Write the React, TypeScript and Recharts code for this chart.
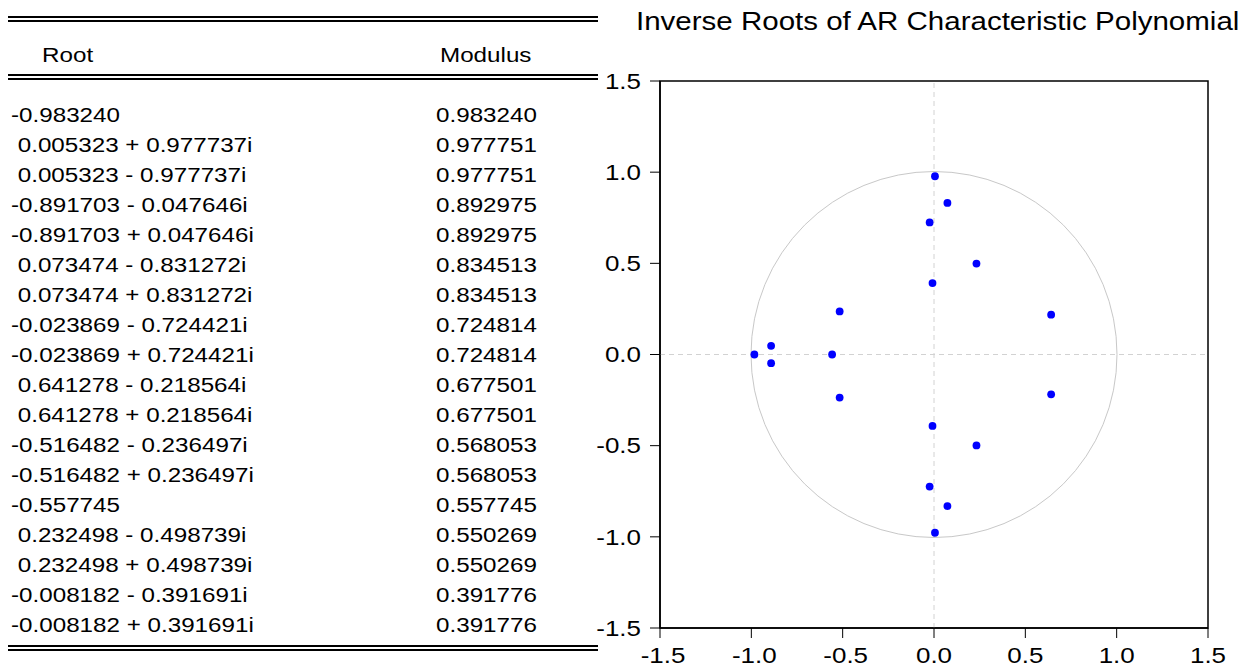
import React from "react";
import {
  ReferenceArea,
  ReferenceDot,
  ReferenceLine,
  Scatter,
  ScatterChart,
  XAxis,
  YAxis,
} from "recharts";

// inverse roots, in table order
const rootRe = [
  -0.98324, 0.005323, 0.005323, -0.891703, -0.891703, 0.073474, 0.073474, -0.023869, -0.023869,
  0.641278, 0.641278, -0.516482, -0.516482, -0.557745, 0.232498, 0.232498, -0.008182, -0.008182,
];
const rootIm = [
  0, 0.977737, -0.977737, -0.047646, 0.047646, -0.831272, 0.831272, -0.724421, 0.724421,
  -0.218564, 0.218564, -0.236497, 0.236497, 0, -0.498739, 0.498739, -0.391691, 0.391691,
];
const moduli = [
  "0.983240", "0.977751", "0.977751", "0.892975", "0.892975", "0.834513", "0.834513", "0.724814",
  "0.724814", "0.677501", "0.677501", "0.568053", "0.568053", "0.557745", "0.550269", "0.550269",
  "0.391776", "0.391776",
];
const axisTicks = [-1.5, -1.0, -0.5, 0, 0.5, 1.0, 1.5];

const title = "Inverse Roots of AR Characteristic Polynomial";
const FONT = "'Liberation Sans', Arial, sans-serif";
const STRETCH = 1.18;

const points = rootRe.map((re, i) => ({ re, im: rootIm[i] }));

function rootLabel(re: number, im: number) {
  const r = `${re < 0 ? "-" : " "}${Math.abs(re).toFixed(6)}`;
  if (im === 0) return r;
  return `${r} ${im < 0 ? "-" : "+"} ${Math.abs(im).toFixed(6)}i`;
}

function Txt({ x, y, size, children }: { x: number; y: number; size: number; children: React.ReactNode }) {
  return (
    <div
      style={{
        position: "absolute",
        left: x,
        top: y,
        fontSize: size,
        lineHeight: "30px",
        whiteSpace: "pre",
        transform: `scaleX(${STRETCH})`,
        transformOrigin: "left center",
        color: "#000",
      }}
    >
      {children}
    </div>
  );
}

function HLine({ y, h }: { y: number; h: number }) {
  return <div style={{ position: "absolute", left: 8, top: y, width: 590, height: h, background: "#000" }} />;
}

function makeTick(axis: "x" | "y") {
  return (props: any) => {
    const { x, y, payload } = props;
    const v = Number(payload.value);
    // negative x labels sit a touch right of the tick
    const shift = axis === "x" && v < 0 ? 3 : 0;
    return (
      <g transform={`translate(${x + shift},${y})`}>
        <text
          x={0}
          y={0}
          transform={`scale(${STRETCH},1)`}
          textAnchor={axis === "x" ? "middle" : "end"}
          dy={axis === "x" ? "0.71em" : "0.355em"}
          fontSize={22}
          fontFamily={FONT}
          fill="#000"
        >
          {v.toFixed(1)}
        </text>
      </g>
    );
  };
}

function RootDot(props: any) {
  return <circle cx={props.cx} cy={props.cy} r={3.9} fill="#0000ff" />;
}

export default function App() {
  return (
    <div
      style={{
        position: "absolute",
        left: 0,
        top: 0,
        width: 1246,
        height: 667,
        background: "#fff",
        fontFamily: FONT,
        overflow: "hidden",
      }}
    >
      <HLine y={16} h={2} />
      <HLine y={20} h={1.5} />
      <Txt x={42} y={40} size={20.5}>Root</Txt>
      <Txt x={440} y={40} size={20.5}>Modulus</Txt>
      <HLine y={74} h={2} />
      <HLine y={78} h={1.5} />
      {points.map((p, i) => (
        <React.Fragment key={i}>
          <Txt x={11} y={100 + i * 30} size={20.5}>{rootLabel(p.re, p.im)}</Txt>
          <Txt x={436} y={100 + i * 30} size={20.5}>{moduli[i]}</Txt>
        </React.Fragment>
      ))}
      <HLine y={645} h={2} />
      <HLine y={649} h={1.5} />

      <div
        style={{
          position: "absolute",
          left: 636,
          top: 6,
          fontSize: 25,
          lineHeight: "30px",
          whiteSpace: "pre",
          transform: `scaleX(${STRETCH})`,
          transformOrigin: "left center",
        }}
      >
        {title}
      </div>

      <div style={{ position: "absolute", left: 560, top: 0 }}>
        <ScatterChart width={686} height={667} margin={{ top: 81, right: 38, bottom: 0, left: 30 }}>
          <XAxis
            type="number"
            dataKey="re"
            domain={[-1.5, 1.5]}
            ticks={axisTicks}
            interval={0}
            allowDataOverflow
            height={39}
            tickSize={10}
            tickMargin={9}
            axisLine={{ stroke: "#000", strokeWidth: 1.5 }}
            tickLine={{ stroke: "#000" }}
            tick={makeTick("x")}
          />
          <YAxis
            type="number"
            dataKey="im"
            domain={[-1.5, 1.5]}
            ticks={axisTicks}
            interval={0}
            allowDataOverflow
            width={70}
            tickSize={10}
            tickMargin={9}
            axisLine={{ stroke: "#000", strokeWidth: 1.5 }}
            tickLine={{ stroke: "#000" }}
            tick={makeTick("y")}
          />
          <ReferenceArea x1={-1.5} x2={1.5} y1={-1.5} y2={1.5} fill="none" stroke="#000" strokeWidth={1.5} fillOpacity={0} />
          <ReferenceLine x={0} stroke="#d2d2d2" strokeDasharray="5 4" />
          <ReferenceLine y={0} stroke="#d2d2d2" strokeDasharray="5 4" />
          <ReferenceDot x={0} y={0} r={183} fill="none" fillOpacity={0} stroke="#c8c8c8" strokeWidth={1} />
          <Scatter data={points} shape={RootDot} isAnimationActive={false} />
        </ScatterChart>
      </div>
    </div>
  );
}
